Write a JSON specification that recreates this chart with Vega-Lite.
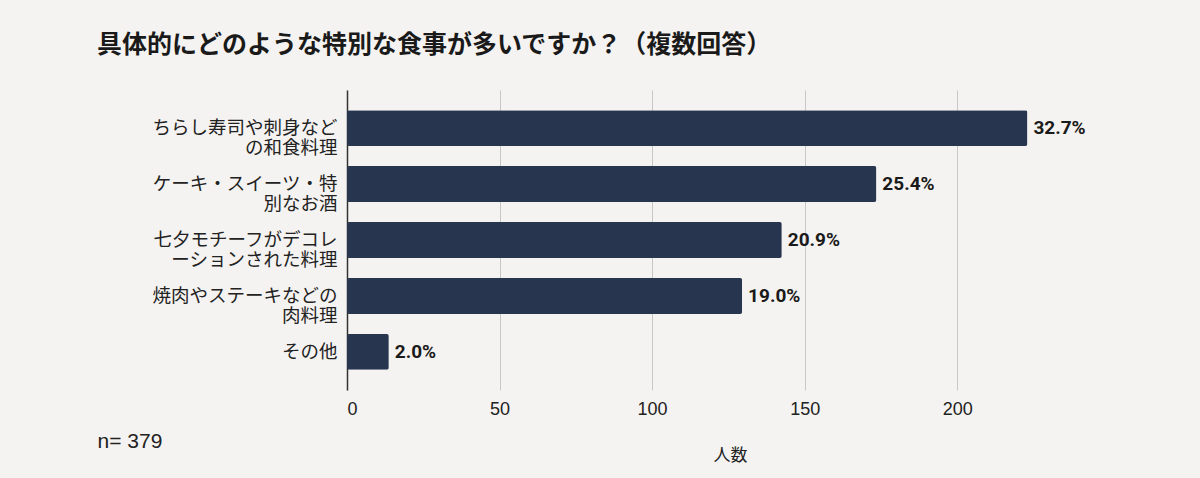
{
  "$schema": "https://vega.github.io/schema/vega-lite/v6.json",
  "width": 717,
  "height": 300,
  "autosize": {"type": "none"},
  "padding": {"left": 347, "top": 90, "right": 136, "bottom": 88},
  "background": "#f5f3f1",
  "view": {"stroke": null},
  "title": {
    "text": "具体的にどのような特別な食事が多いですか？（複数回答）",
    "anchor": "start",
    "frame": "group",
    "dx": -250,
    "offset": 32,
    "fontSize": 25,
    "font": "Noto Sans CJK JP",
    "fontWeight": "bold",
    "color": "#1a1a1a"
  },
  "data": {
    "values": [
      {"item": "ちらし寿司や刺身など|の和食料理", "count": 223, "pct": "32.7%"},
      {"item": "ケーキ・スイーツ・特|別なお酒", "count": 173.5, "pct": "25.4%"},
      {"item": "七夕モチーフがデコレ|ーションされた料理", "count": 142.5, "pct": "20.9%"},
      {"item": "焼肉やステーキなどの|肉料理", "count": 129.5, "pct": "19.0%"},
      {"item": "その他", "count": 13.7, "pct": "2.0%"}
    ]
  },
  "encoding": {
    "y": {
      "field": "item",
      "type": "nominal",
      "sort": null,
      "scale": {"paddingInner": 0.36, "paddingOuter": 0.36},
      "axis": {
        "title": "n= 379",
        "titleAngle": 0,
        "titleAlign": "left",
        "titleBaseline": "middle",
        "titleX": -250,
        "titleY": 351,
        "titleFontSize": 21,
        "titleFont": "Liberation Sans",
        "titleFontWeight": "normal",
        "titleColor": "#222222",
        "labelExpr": "split(datum.label, '|')",
        "labelFontSize": 18.5,
        "labelFont": "Noto Sans CJK JP",
        "labelLineHeight": 20,
        "labelPadding": 10,
        "labelLimit": 320,
        "labelColor": "#222222",
        "ticks": false,
        "domain": true,
        "domainColor": "#333333",
        "domainWidth": 1.5
      }
    },
    "x": {
      "field": "count",
      "type": "quantitative",
      "scale": {"domain": [0, 235], "nice": false},
      "axis": {
        "values": [0, 50, 100, 150, 200],
        "grid": true,
        "gridColor": "#c8c8c8",
        "domain": false,
        "ticks": false,
        "labelFontSize": 18,
        "labelFont": "Liberation Sans",
        "labelColor": "#222222",
        "labelPadding": 10,
        "title": "人数",
        "titleFontSize": 17,
        "titleFont": "Noto Sans CJK JP",
        "titleFontWeight": "normal",
        "titleColor": "#222222",
        "titleX": 383,
        "titleY": 65,
        "titleBaseline": "middle"
      }
    }
  },
  "layer": [
    {"mark": {"type": "bar", "color": "#27354f", "cornerRadius": 2}},
    {
      "mark": {"type": "text", "align": "left", "baseline": "middle", "dx": 6, "fontWeight": "bold", "fontSize": 19, "font": "Roboto", "color": "#1a1a1a"},
      "encoding": {"text": {"field": "pct"}}
    }
  ]
}
